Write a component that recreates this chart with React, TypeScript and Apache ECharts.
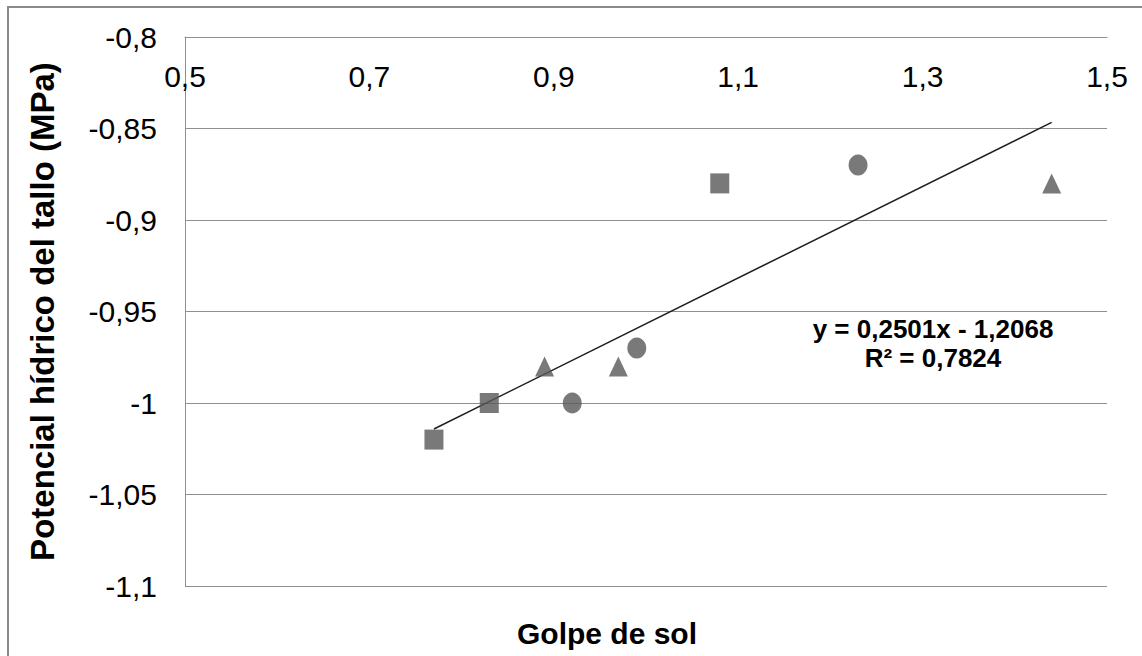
import React, { useEffect, useRef } from "react";
import * as echarts from "echarts";

const squares: [number, number][] = [
  [0.77, -1.02],
  [0.83, -1.0],
  [1.08, -0.88],
];
const circles: [number, number][] = [
  [0.92, -1.0],
  [0.99, -0.97],
  [1.23, -0.87],
];
const triangles: [number, number][] = [
  [0.89, -0.98],
  [0.97, -0.98],
  [1.44, -0.88],
];
const SLOPE = 0.2501;
const INTERCEPT = -1.2068;
const R2 = 0.7824;
const trendX = [0.77, 1.44];
const xTitle = "Golpe de sol";
const yTitle = "Potencial hídrico del tallo (MPa)";

const fmt = (v: number) => String(Math.round(v * 100) / 100).replace(".", ",");
const fmt4 = (v: number) => v.toFixed(4).replace(".", ",");

export default function App() {
  const ref = useRef<HTMLDivElement>(null);
  useEffect(() => {
    if (!ref.current) return;
    const chart = echarts.init(ref.current, undefined, { renderer: "svg" });
    const markerColor = "#575757";
    const gridColor = "#8f8f8f";
    const font = "'Liberation Sans', Arial, sans-serif";
    const eq =
      "y = " +
      fmt4(SLOPE) +
      "x " +
      (INTERCEPT < 0 ? "- " : "+ ") +
      fmt4(Math.abs(INTERCEPT)) +
      "\nR² = " +
      fmt4(R2);
    chart.setOption({
      animation: false,
      backgroundColor: "#ffffff",
      grid: { left: 185, right: 35, top: 37, bottom: 70 },
      xAxis: {
        type: "value",
        position: "top",
        min: 0.5,
        max: 1.5,
        interval: 0.2,
        axisLine: { show: true, lineStyle: { color: gridColor, width: 1 } },
        axisTick: { show: false },
        splitLine: { show: false },
        axisLabel: {
          inside: true,
          margin: 24,
          color: "#000",
          fontSize: 30,
          fontFamily: font,
          formatter: fmt,
          showMaxLabel: true,
          showMinLabel: true,
        },
      },
      yAxis: {
        type: "value",
        min: -1.1,
        max: -0.8,
        interval: 0.05,
        name: yTitle,
        nameLocation: "middle",
        nameGap: 126,
        nameTextStyle: { fontSize: 33, fontWeight: "bold", color: "#000", fontFamily: font },
        axisLine: { show: true, lineStyle: { color: gridColor, width: 1 } },
        axisTick: { show: false },
        splitLine: { show: true, lineStyle: { color: gridColor, width: 1 } },
        axisLabel: {
          margin: 28,
          color: "#000",
          fontSize: 30,
          fontFamily: font,
          formatter: fmt,
        },
      },
      graphic: [
        {
          type: "rect",
          shape: { x: 8, y: 7, width: 1300, height: 800 },
          style: { fill: "none", stroke: "#8a8a8a", lineWidth: 2 },
          silent: true,
        },
        {
          type: "text",
          x: 607,
          y: 633,
          style: {
            text: xTitle,
            fontSize: 30,
            fontWeight: "bold",
            fontFamily: font,
            fill: "#000",
            align: "center",
            verticalAlign: "middle",
          },
        },
        {
          type: "text",
          x: 933,
          y: 343,
          style: {
            text: eq,
            fontSize: 26,
            fontWeight: "bold",
            fontFamily: font,
            fill: "#000",
            align: "center",
            verticalAlign: "middle",
            lineHeight: 29,
          },
        },
      ],
      series: [
        {
          type: "line",
          data: trendX.map((x) => [x, SLOPE * x + INTERCEPT]),
          symbol: "none",
          lineStyle: { color: "#1e1e1e", width: 1.5 },
          silent: true,
          z: 1,
        },
        {
          type: "scatter",
          data: squares,
          symbol: "rect",
          symbolSize: [19, 20],
          itemStyle: { color: markerColor },
          z: 2,
        },
        {
          type: "scatter",
          data: circles,
          symbol: "circle",
          symbolSize: [19, 21],
          itemStyle: { color: markerColor },
          z: 2,
        },
        {
          type: "scatter",
          data: triangles,
          symbol: "triangle",
          symbolSize: [19, 20],
          itemStyle: { color: markerColor },
          z: 2,
        },
      ],
    });
    return () => chart.dispose();
  }, []);
  return (
    <div
      ref={ref}
      style={{ position: "fixed", left: 0, top: 0, width: 1142, height: 656 }}
    />
  );
}
